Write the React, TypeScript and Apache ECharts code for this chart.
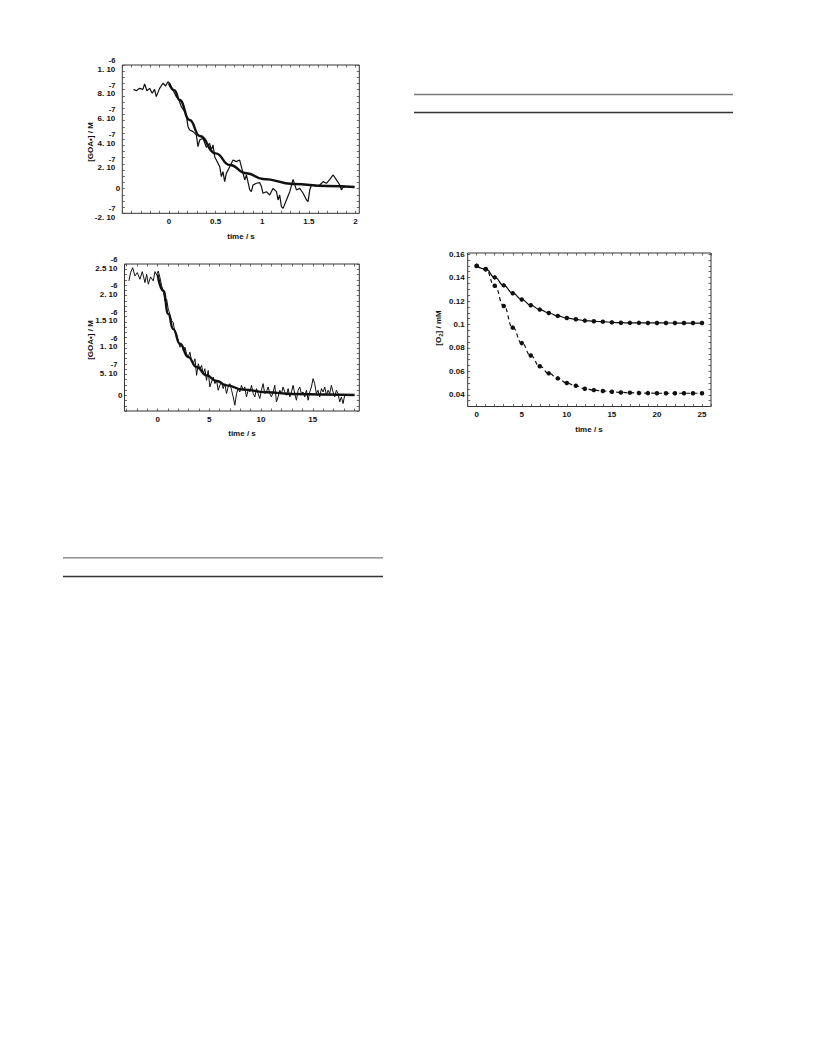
import React, { useEffect, useRef } from "react";
import * as echarts from "echarts";

const FONT = '"Liberation Sans", Arial, Helvetica, sans-serif';
const INK = "#111";

// ---------- Panel A (top left): [GOA•] vs time, values in units of 1e-7 M ----------
const traceATime = [
  -0.379, -0.35, -0.315, -0.279, -0.261, -0.236, -0.207, -0.179, -0.154, -0.136, -0.1, -0.064, -0.036, -0.011,
  0.007, 0.043, 0.079, 0.107, 0.132, 0.157, 0.186, 0.204, 0.222, 0.258, 0.293, 0.311, 0.329, 0.365, 0.401, 0.436,
  0.454, 0.472, 0.49, 0.508, 0.544, 0.562, 0.579, 0.597, 0.615, 0.651, 0.687, 0.722, 0.758, 0.776, 0.794, 0.812,
  0.83, 0.866, 0.883, 0.901, 0.937, 0.973, 0.991, 1.008, 1.044, 1.08, 1.116, 1.152, 1.17, 1.187, 1.205, 1.223,
  1.259, 1.295, 1.33, 1.366, 1.402, 1.438, 1.474, 1.491, 1.509, 1.527, 1.581, 1.617, 1.652, 1.688, 1.724, 1.76,
  1.795, 1.831, 1.849, 1.867, 1.885,
];
const traceAValue = [
  8.03, 7.92, 8.11, 8.03, 8.46, 7.92, 8.11, 7.71, 8.03, 7.44, 8.11, 8.52, 8.3, 8.65,
  8.52, 7.98, 7.44, 7.17, 6.63, 6.36, 5.95, 5.01, 4.74, 4.61, 4.34, 3.39, 3.93, 4.07, 3.34, 3.66,
  3.12, 3.53, 2.58, 2.31, 1.77, 0.97, 1.37, 0.56, 1.23, 1.77, 2.31, 2.18, 2.31, 1.77, 1.23, 0.7,
  1.1, -0.11, -0.25, 0.29, 0.43, 0.48, 0.16, -0.38, -0.25, -0.52, 0.02, -0.25, -0.92, -0.52, -1.46, -1.6,
  -0.92, -0.25, 0.75, -0.11, 0.02, -0.38, -0.92, -1.06, -0.11, 0.29, 0.21, 0.29, 0.56, 0.43, 0.75, 1.1,
  0.7, 0.29, -0.11, 0.16, 0.1,
];
const fitATime = [0, 0.06, 0.114, 0.222, 0.329, 0.5, 0.651, 0.83, 1.008, 1.33, 1.69, 1.99];
const fitAValue = [8.52, 7.95, 7.17, 5.55, 4.26, 2.85, 1.91, 1.24, 0.78, 0.37, 0.21, 0.13];

const axisAXTicks = [0, 0.5, 1, 1.5, 2];
const axisAXLabels = ["0", "0.5", "1", "1.5", "2"];
const axisAYTicks = [-2e-7, 0, 2e-7, 4e-7, 6e-7, 8e-7, 1e-6];
const axisAYMantissa = ["-2. 10", "0", "2. 10", "4. 10", "6. 10", "8. 10", "1. 10"];
const axisAYExponent = ["-7", "", "-7", "-7", "-7", "-7", "-6"];

// ---------- Panel B (bottom left): [GOA•] vs time, values in units of 1e-7 M ----------
const traceBTime = [
  -2.77, -2.61, -2.41, -2.19, -1.96, -1.71, -1.48, -1.22, -1.06, -0.9, -0.68, -0.42, -0.26, -0.1,
  0.06, 0.23, 0.39, 0.55, 0.71, 0.87, 1.03, 1.19, 1.35, 1.51, 1.67, 1.83, 2.0, 2.16, 2.32, 2.48, 2.64, 2.8,
  2.96, 3.12, 3.28, 3.44, 3.61, 3.77, 3.93, 4.09, 4.25, 4.41, 4.57, 4.73, 4.89, 5.05, 5.21, 5.38, 5.54, 5.7,
  5.86, 6.02, 6.18, 6.34, 6.5, 6.66, 6.82, 6.98, 7.15, 7.31, 7.47, 7.63, 7.79, 7.95, 8.11, 8.27, 8.43, 8.59,
  8.75, 8.92, 9.08, 9.24, 9.4, 9.56, 9.72, 9.88, 10.04, 10.2, 10.36, 10.52, 10.69, 10.85, 11.01, 11.17, 11.33,
  11.49, 11.65, 11.81, 11.97, 12.13, 12.29, 12.46, 12.62, 12.78, 12.94, 13.1, 13.26, 13.42, 13.58, 13.74, 13.9,
  14.06, 14.23, 14.39, 14.55, 14.71, 14.87, 15.03, 15.19, 15.35, 15.51, 15.67, 15.84, 16.0, 16.16, 16.32, 16.48,
  16.64, 16.8, 16.96, 17.12, 17.28, 17.44, 17.61, 17.77, 17.93, 18.09,
];
const traceBValue = [
  21.78, 23.36, 24.3, 22.73, 23.36, 22.1, 23.55, 21.46, 23.04, 21.15, 22.54, 21.78, 23.55, 22.92,
  23.67, 22.41, 20.83, 19.89, 17.99, 18.31, 16.41, 15.47, 14.2, 13.89, 11.99, 11.68, 10.42, 9.15, 9.78, 8.52, 9.15, 7.89,
  7.26, 8.21, 6.63, 6.0, 6.94, 3.79, 6.0, 5.05, 5.68, 4.1, 5.05, 2.84, 4.73, 1.58, 2.53, 3.47, 2.21, 2.84,
  0.95, 1.89, 2.53, 1.26, 2.21, 0.32, 1.58, 2.21, 0.95, -0.32, -1.89, 0.32, 1.26, 0.63, 1.89, 0.95, 1.58, -0.32,
  0.95, 0.63, 1.89, 0.32, -0.32, 1.26, 0.32, -0.63, 0.95, 2.21, 0.32, 0.63, 1.58, 0.32, -0.32, 0.63, 1.89,
  -1.26, -0.32, 0.95, 0.32, 1.58, 0.63, 0.0, 1.26, -0.32, 0.63, 1.89, 0.32, -0.95, 0.95, 1.58, 0.32,
  0.63, -0.32, 0.95, -0.95, 0.63, 1.58, 3.16, 2.21, 0.32, 0.95, -0.32, 1.26, 0.63, 1.58, 0.0, 0.95,
  0.32, 1.89, 0.63, -0.32, 0.95, 0.32, -1.26, -0.32, -1.58, 0.0,
];
const fitBTime = [0, 0.55, 1.03, 1.51, 2.16, 2.96, 3.77, 4.73, 5.7, 6.66, 8.27, 10.52, 13.1, 16.3, 19.05];
const fitBValue = [23.0, 19.9, 15.5, 12.6, 9.8, 7.26, 5.37, 3.79, 2.71, 1.89, 1.07, 0.57, 0.25, 0.13, 0.06];

const axisBXTicks = [0, 5, 10, 15];
const axisBXLabels = ["0", "5", "10", "15"];
const axisBYTicks = [0, 5e-7, 1e-6, 1.5e-6, 2e-6, 2.5e-6];
const axisBYMantissa = ["0", "5. 10", "1. 10", "1.5 10", "2. 10", "2.5 10"];
const axisBYExponent = ["", "-7", "-6", "-6", "-6", "-6"];

// ---------- Panel C (right): [O2] vs time ----------
const o2Time = [0, 1, 2, 3, 4, 5, 6, 7, 8, 9, 10, 11, 12, 13, 14, 15, 16, 17, 18, 19, 20, 21, 22, 23, 24, 25];
const o2Solid = [
  0.15, 0.1474, 0.1402, 0.1334, 0.1267, 0.1213, 0.1164, 0.1127, 0.1098, 0.1073, 0.1055, 0.1044, 0.1033,
  0.1027, 0.1024, 0.1018, 0.1015, 0.1014, 0.1014, 0.1013, 0.1013, 0.1013, 0.1012, 0.1012, 0.1012, 0.1012,
];
const o2Dashed = [
  0.15, 0.147, 0.133, 0.1158, 0.0973, 0.0841, 0.0735, 0.0643, 0.0583, 0.054, 0.05, 0.0477, 0.0451,
  0.044, 0.0432, 0.0426, 0.042, 0.0418, 0.0415, 0.0414, 0.0413, 0.0413, 0.0413, 0.0413, 0.0413, 0.0413,
];
const axisCXTicks = [0, 5, 10, 15, 20, 25];
const axisCXLabels = ["0", "5", "10", "15", "20", "25"];
const axisCYTicks = [0.04, 0.06, 0.08, 0.1, 0.12, 0.14, 0.16];
const axisCYLabels = ["0.04", "0.06", "0.08", "0.1", "0.12", "0.14", "0.16"];

// ---------- helpers ----------
function range(a: number, b: number, step: number): number[] {
  const out: number[] = [];
  const n = Math.round((b - a) / step);
  for (let i = 0; i <= n; i++) out.push(Number((a + i * step).toPrecision(10)));
  return out;
}
function nearestIndex(arr: number[], v: number): number {
  let best = 0;
  for (let i = 1; i < arr.length; i++) if (Math.abs(arr[i] - v) < Math.abs(arr[best] - v)) best = i;
  return best;
}
const tickLine = { color: "#444", width: 0.8 };
const labelBase = { fontSize: 8, fontWeight: "bold", fontFamily: FONT, color: INK };

function xAxes(grid: number, min: number, max: number, ticks: number[], vals: number[], texts: string[]) {
  const common = {
    type: "value", gridIndex: grid, min, max,
    axisLine: { show: false, onZero: false }, splitLine: { show: false },
    axisTick: { show: true, inside: true, length: 2.5, customValues: ticks, lineStyle: tickLine },
  };
  return [
    {
      ...common, position: "bottom",
      axisLabel: {
        ...labelBase, show: true, margin: 4, hideOverlap: false, customValues: vals,
        formatter: (v: number) => texts[nearestIndex(vals, v)],
      },
    },
    { ...common, position: "top", axisLabel: { show: false } },
  ];
}

function yAxes(grid: number, min: number, max: number, ticks: number[], vals: number[],
  mant: string[], expo: string[] | null) {
  const common = {
    type: "value", gridIndex: grid, min, max,
    axisLine: { show: false, onZero: false }, splitLine: { show: false },
    axisTick: { show: true, inside: true, length: 2.5, customValues: ticks, lineStyle: tickLine },
  };
  return [
    {
      ...common, position: "left",
      axisLabel: {
        ...labelBase, show: true, margin: expo ? 2 : 3, hideOverlap: false, customValues: vals,
        formatter: (v: number) => {
          const i = nearestIndex(vals, v);
          if (expo && expo[i]) return `{e|${expo[i]}}\n{m|${mant[i]}}`;
          return `{z|${mant[i]}}`;
        },
        rich: {
          e: { ...labelBase, fontSize: 7.5, lineHeight: 8, align: "right", padding: [0, 5, 0, 0] },
          m: { ...labelBase, lineHeight: 9, align: "right", padding: [0, 5, 0, 0] },
          z: { ...labelBase, lineHeight: 9 },
        },
      },
    },
    { ...common, position: "right", axisLabel: { show: false } },
  ];
}

const gridStyle = { show: true, borderColor: "#333", borderWidth: 1, backgroundColor: "transparent", containLabel: false, outerBoundsMode: "none" };

function buildOption() {
  const traceA = traceATime.map((t, i) => [t, traceAValue[i] * 1e-7]);
  const fitA = fitATime.map((t, i) => [t, fitAValue[i] * 1e-7]);
  const traceB = traceBTime.map((t, i) => [t, traceBValue[i] * 1e-7]);
  const fitB = fitBTime.map((t, i) => [t, fitBValue[i] * 1e-7]);
  const solid = o2Time.map((t, i) => [t, o2Solid[i]]);
  const dashed = o2Time.map((t, i) => [t, o2Dashed[i]]);

  const titleStyle = { fontSize: 8, fontWeight: "bold", fontFamily: FONT, fill: INK, align: "center", verticalAlign: "middle" };

  return {
    animation: false,
    backgroundColor: "#fff",
    grid: [
      { ...gridStyle, left: 122.3, top: 65, width: 237, height: 148.3 },
      { ...gridStyle, left: 124.5, top: 264, width: 234.8, height: 147 },
      { ...gridStyle, left: 467.7, top: 253, width: 243.3, height: 153.5 },
    ],
    xAxis: [
      ...xAxes(0, -0.5, 2.04, range(-0.5, 2.0, 0.1), axisAXTicks, axisAXLabels),
      ...xAxes(1, -3.2, 19.5, range(-3, 19, 1), axisBXTicks, axisBXLabels),
      ...xAxes(2, -1, 26, range(-1, 26, 1), axisCXTicks, axisCXLabels),
    ],
    yAxis: [
      ...yAxes(0, -2e-7, 1e-6, range(-2e-7, 1e-6, 0.5e-7), axisAYTicks, axisAYMantissa, axisAYExponent),
      ...yAxes(1, -3e-7, 2.5e-6, range(-3e-7, 2.5e-6, 1e-7), axisBYTicks, axisBYMantissa, axisBYExponent),
      ...yAxes(2, 0.03, 0.161, range(0.03, 0.16, 0.005), axisCYTicks, axisCYLabels, null),
    ],
    series: [
      { type: "line", xAxisIndex: 0, yAxisIndex: 0, data: traceA, showSymbol: false, silent: true, lineStyle: { color: INK, width: 1.2 } },
      { type: "line", xAxisIndex: 0, yAxisIndex: 0, data: fitA, showSymbol: false, silent: true, smooth: true, smoothMonotone: "x", lineStyle: { color: INK, width: 2.4 } },
      { type: "line", xAxisIndex: 2, yAxisIndex: 2, data: traceB, showSymbol: false, silent: true, lineStyle: { color: INK, width: 1 } },
      { type: "line", xAxisIndex: 2, yAxisIndex: 2, data: fitB, showSymbol: false, silent: true, smooth: true, smoothMonotone: "x", lineStyle: { color: INK, width: 2.4 } },
      {
        type: "line", xAxisIndex: 4, yAxisIndex: 4, data: solid, silent: true, smooth: true, smoothMonotone: "x",
        symbol: "circle", symbolSize: 4.5, showSymbol: true, itemStyle: { color: INK }, lineStyle: { color: INK, width: 1.2 },
      },
      {
        type: "line", xAxisIndex: 4, yAxisIndex: 4, data: dashed, silent: true, smooth: true, smoothMonotone: "x",
        symbol: "circle", symbolSize: 4.5, showSymbol: true, itemStyle: { color: INK }, lineStyle: { color: INK, width: 1.2, type: [4, 3] },
      },
    ],
    graphic: [
      // table rules
      { type: "line", shape: { x1: 414, y1: 94.5, x2: 733, y2: 94.5 }, style: { stroke: "#7a7a7a", lineWidth: 1.3 } },
      { type: "line", shape: { x1: 414, y1: 112.5, x2: 733, y2: 112.5 }, style: { stroke: "#333", lineWidth: 1.3 } },
      { type: "line", shape: { x1: 63, y1: 557.8, x2: 383, y2: 557.8 }, style: { stroke: "#7a7a7a", lineWidth: 1.3 } },
      { type: "line", shape: { x1: 63, y1: 576.5, x2: 383, y2: 576.5 }, style: { stroke: "#333", lineWidth: 1.3 } },
      // axis titles
      { type: "text", x: 90, y: 142, rotation: Math.PI / 2, style: { ...titleStyle, text: "[GOA•] / M" } },
      { type: "text", x: 241, y: 236, style: { ...titleStyle, text: "time / s" } },
      { type: "text", x: 90, y: 340, rotation: Math.PI / 2, style: { ...titleStyle, text: "[GOA•] / M" } },
      { type: "text", x: 242, y: 433, style: { ...titleStyle, text: "time / s" } },
      {
        type: "text", x: 438, y: 328, rotation: Math.PI / 2,
        style: {
          ...titleStyle, text: "{a|[O}{s|2}{a|] / mM}",
          rich: {
            a: { fontSize: 8, fontWeight: "bold", fontFamily: FONT, fill: INK, lineHeight: 11, verticalAlign: "middle" },
            s: { fontSize: 6, fontWeight: "bold", fontFamily: FONT, fill: INK, lineHeight: 11, verticalAlign: "bottom" },
          },
        },
      },
      { type: "text", x: 589, y: 429, style: { ...titleStyle, text: "time / s" } },
    ],
  };
}

export default function App() {
  const ref = useRef<HTMLDivElement>(null);
  useEffect(() => {
    if (!ref.current) return;
    const chart = echarts.init(ref.current, null, { renderer: "svg" });
    chart.setOption(buildOption() as any);
    return () => chart.dispose();
  }, []);
  return (
    <div
      ref={ref}
      style={{ position: "absolute", left: 0, top: 0, width: 816, height: 1056, background: "#fff" }}
    />
  );
}
